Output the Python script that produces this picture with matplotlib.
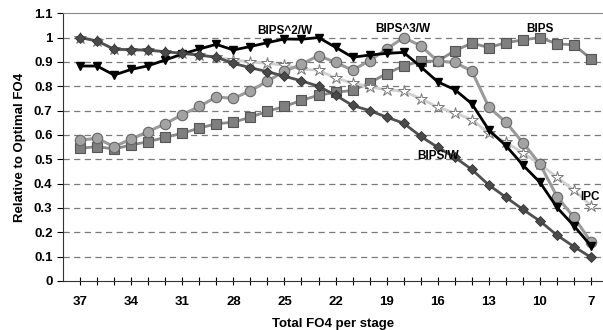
import matplotlib
matplotlib.use("Agg")
import matplotlib.pyplot as plt
import numpy as np

plt.rcParams['font.family'] = ['Liberation Sans', 'DejaVu Sans']
plt.rcParams['font.weight'] = 'bold'

fo4 = list(range(37, 6, -1))

bips = [0.545, 0.552, 0.542, 0.559, 0.572, 0.590, 0.607, 0.628, 0.646, 0.652,
        0.673, 0.697, 0.717, 0.742, 0.763, 0.775, 0.783, 0.814, 0.852, 0.884,
        0.903, 0.903, 0.946, 0.977, 0.959, 0.979, 0.990, 1.000, 0.974, 0.970, 0.912]
bips3_w = [0.579, 0.586, 0.552, 0.583, 0.614, 0.646, 0.683, 0.717, 0.756, 0.750,
           0.781, 0.821, 0.861, 0.890, 0.926, 0.898, 0.866, 0.905, 0.953, 1.000,
           0.966, 0.903, 0.898, 0.862, 0.714, 0.652, 0.568, 0.480, 0.347, 0.261, 0.160]
bips2_w = [0.883, 0.883, 0.846, 0.869, 0.884, 0.908, 0.932, 0.953, 0.972, 0.949,
           0.963, 0.979, 0.994, 0.993, 1.000, 0.960, 0.919, 0.928, 0.935, 0.939,
           0.880, 0.818, 0.786, 0.728, 0.620, 0.556, 0.476, 0.405, 0.302, 0.226, 0.144]
ipc = [1.000, 0.986, 0.952, 0.950, 0.948, 0.942, 0.935, 0.928, 0.919, 0.908,
       0.900, 0.894, 0.887, 0.870, 0.866, 0.833, 0.814, 0.797, 0.786, 0.779,
       0.749, 0.714, 0.690, 0.663, 0.607, 0.570, 0.526, 0.480, 0.426, 0.373, 0.309]
bips_w = [1.000, 0.986, 0.952, 0.950, 0.948, 0.942, 0.935, 0.928, 0.919, 0.894,
          0.876, 0.860, 0.841, 0.822, 0.800, 0.763, 0.721, 0.700, 0.673, 0.648,
          0.594, 0.549, 0.508, 0.458, 0.394, 0.344, 0.294, 0.246, 0.188, 0.141, 0.097]

labels = ["BIPS^2/W", "BIPS^3/W", "BIPS", "BIPS/W", "IPC"]
label_pos = [(25.0, 1.025), (18.05, 1.037), (10.0, 1.037), (16.0, 0.514), (7.05, 0.346)]

fig = plt.figure(figsize=(6.03, 3.30), dpi=100)
ax = fig.add_axes([0.1045, 0.1485, 0.8955, 0.8115])

ax.plot(fo4, bips, color='#8a8a8a', lw=2.0, marker='s', ms=7,
        mfc='#7f7f7f', mec='#555555', mew=0.8, zorder=3)
ax.plot(fo4, ipc, color='#cfcfcf', lw=2.0, marker='*', ms=9,
        mfc='white', mec='#777777', mew=0.7, zorder=4)
ax.plot(fo4, bips3_w, color='#9a9a9a', lw=2.2, marker='o', ms=7.5,
        mfc='#a3a3a3', mec='#666666', mew=0.8, zorder=5)
ax.plot(fo4, bips2_w, color='black', lw=2.0, marker='v', ms=6,
        mfc='black', mec='black', zorder=6)
ax.plot(fo4, bips_w, color='#505050', lw=2.0, marker='D', ms=5,
        mfc='#4a4a4a', mec='#333333', mew=0.6, zorder=7)

for txt, (x, y) in zip(labels, label_pos):
    ax.text(x, y, txt, ha='center', va='center', fontsize=8.5, fontweight='bold', zorder=10)

ax.set_xlim(38.0, 6.3)
ax.set_ylim(0, 1.1)
ax.set_xticks(range(37, 6, -3))
ax.set_xticks(range(37, 6, -1), minor=True)
ax.set_yticks(np.round(np.arange(0, 1.11, 0.1), 1))
ax.set_yticklabels(['0', '0.1', '0.2', '0.3', '0.4', '0.5', '0.6', '0.7', '0.8', '0.9', '1', '1.1'])
ax.tick_params(axis='x', which='both', direction='inout', length=6, width=0.8, labelsize=9.5, pad=8)
ax.tick_params(axis='y', direction='out', length=4, width=0.8, labelsize=9.5)
for lbl in ax.get_xticklabels() + ax.get_yticklabels():
    lbl.set_fontweight('bold')

for v in np.arange(0.1, 1.05, 0.1):
    ax.axhline(v, color='#7a7a7a', lw=0.9, ls=(0, (5, 3.5)), zorder=1)

ax.spines['right'].set_visible(False)
ax.spines['top'].set_color('#888888')
ax.spines['left'].set_color('#333333')
ax.spines['bottom'].set_color('#333333')

ax.set_xlabel('Total FO4 per stage', fontsize=9.5, fontweight='bold', labelpad=7)
ax.set_ylabel('Relative to Optimal FO4', fontsize=9.5, fontweight='bold', labelpad=6)

fig.savefig('out.png', dpi=100)
